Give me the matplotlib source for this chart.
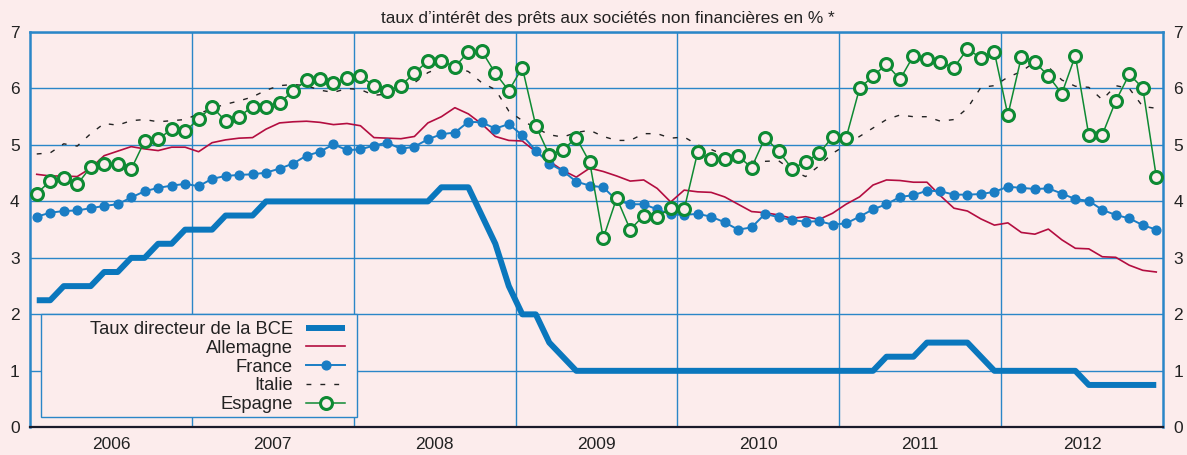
import matplotlib
matplotlib.use("Agg")
import matplotlib.pyplot as plt
from matplotlib.patches import Rectangle
import numpy as np

plt.rcParams['font.family'] = ['Liberation Sans', 'DejaVu Sans']

# ---------------- data (monthly, Jan 2006 - Dec 2012) ----------------
years = [2006, 2007, 2008, 2009, 2010, 2011, 2012]
year_labels = ['2006', '2007', '2008', '2009', '2010', '2011', '2012']

ecb = [2.25, 2.25, 2.5, 2.5, 2.5, 2.75, 2.75, 3.0, 3.0, 3.25, 3.25, 3.5,
       3.5, 3.5, 3.75, 3.75, 3.75, 4.0, 4.0, 4.0, 4.0, 4.0, 4.0, 4.0,
       4.0, 4.0, 4.0, 4.0, 4.0, 4.0, 4.25, 4.25, 4.25, 3.75, 3.25, 2.5,
       2.0, 2.0, 1.5, 1.25, 1.0, 1.0, 1.0, 1.0, 1.0, 1.0, 1.0, 1.0,
       1.0, 1.0, 1.0, 1.0, 1.0, 1.0, 1.0, 1.0, 1.0, 1.0, 1.0, 1.0,
       1.0, 1.0, 1.0, 1.25, 1.25, 1.25, 1.5, 1.5, 1.5, 1.5, 1.25, 1.0,
       1.0, 1.0, 1.0, 1.0, 1.0, 1.0, 0.75, 0.75, 0.75, 0.75, 0.75, 0.75]

allemagne = [4.48, 4.45, 4.45, 4.44, 4.59, 4.81, 4.89, 4.97, 4.93, 4.90, 4.96, 4.96,
             4.88, 5.04, 5.09, 5.12, 5.13, 5.28, 5.39, 5.41, 5.42, 5.40, 5.36, 5.38,
             5.34, 5.13, 5.12, 5.11, 5.15, 5.39, 5.50, 5.66, 5.55, 5.37, 5.15, 5.08,
             5.07, 4.88, 4.71, 4.55, 4.43, 4.59, 4.53, 4.45, 4.36, 4.38, 4.23, 3.99,
             4.20, 4.17, 4.16, 4.08, 3.95, 3.82, 3.80, 3.76, 3.70, 3.73, 3.68, 3.79,
             3.95, 4.08, 4.29, 4.38, 4.37, 4.34, 4.34, 4.10, 3.88, 3.83, 3.69, 3.58,
             3.62, 3.45, 3.42, 3.51, 3.32, 3.17, 3.16, 3.02, 3.01, 2.87, 2.78, 2.75]

france = [3.73, 3.80, 3.83, 3.84, 3.88, 3.92, 3.95, 4.07, 4.18, 4.24, 4.28, 4.31,
          4.27, 4.40, 4.45, 4.47, 4.48, 4.51, 4.58, 4.67, 4.81, 4.88, 5.01, 4.91,
          4.92, 4.99, 5.04, 4.93, 4.97, 5.10, 5.19, 5.22, 5.41, 5.40, 5.29, 5.37,
          5.17, 4.90, 4.67, 4.54, 4.35, 4.28, 4.25, 4.02, 3.95, 3.95, 3.86, 3.77,
          3.76, 3.78, 3.73, 3.63, 3.50, 3.54, 3.78, 3.72, 3.67, 3.64, 3.65, 3.59,
          3.61, 3.73, 3.86, 3.95, 4.08, 4.11, 4.19, 4.18, 4.12, 4.12, 4.13, 4.17,
          4.26, 4.24, 4.22, 4.23, 4.14, 4.04, 4.01, 3.85, 3.76, 3.70, 3.58, 3.50]

italie = [4.84, 4.86, 5.02, 4.98, 5.20, 5.38, 5.35, 5.43, 5.45, 5.41, 5.43, 5.45,
          5.55, 5.65, 5.72, 5.78, 5.85, 5.97, 6.05, 6.07, 6.05, 5.97, 5.93, 6.00,
          5.98, 5.88, 5.90, 6.00, 6.10, 6.28, 6.38, 6.38, 6.30, 6.10, 5.98, 5.60,
          5.43, 5.30, 5.18, 5.14, 5.22, 5.26, 5.15, 5.08, 5.08, 5.20, 5.20, 5.12,
          5.14, 5.00, 4.92, 4.82, 4.73, 4.71, 4.71, 4.72, 4.55, 4.44, 4.63, 4.85,
          5.00, 5.15, 5.30, 5.45, 5.53, 5.50, 5.50, 5.42, 5.45, 5.65, 6.02, 6.05,
          6.20, 6.30, 6.47, 6.38, 6.15, 6.04, 6.02, 5.80, 6.05, 6.00, 5.68, 5.65]

espagne = [4.14, 4.36, 4.41, 4.30, 4.61, 4.67, 4.67, 4.57, 5.07, 5.10, 5.28, 5.24,
           5.46, 5.68, 5.42, 5.50, 5.68, 5.68, 5.75, 5.95, 6.15, 6.17, 6.09, 6.18,
           6.22, 6.05, 5.95, 6.05, 6.27, 6.49, 6.49, 6.38, 6.65, 6.66, 6.27, 5.96,
           6.37, 5.34, 4.82, 4.91, 5.13, 4.69, 3.35, 4.06, 3.50, 3.75, 3.73, 3.88,
           3.86, 4.87, 4.75, 4.75, 4.80, 4.60, 5.13, 4.89, 4.58, 4.70, 4.85, 5.14,
           5.12, 6.00, 6.22, 6.43, 6.16, 6.58, 6.53, 6.46, 6.37, 6.70, 6.54, 6.64,
           5.53, 6.56, 6.47, 6.22, 5.91, 6.58, 5.17, 5.18, 5.78, 6.25, 6.01, 4.44]

labels = ['Taux directeur de la BCE', 'Allemagne', 'France', 'Italie', 'Espagne']
title = 'taux d\u2019intérêt des prêts aux sociétés non financières en % *'

# ---------------- styling ----------------
bg = '#fcecec'
gridc = '#2a86c8'
c_ecb = '#0a77bd'
c_de = '#b30d40'
c_fr = '#1a7dc4'
c_it = '#222222'
c_es = '#0e8a33'

n = len(ecb)
x = years[0] + (np.arange(n) + 0.5) / 12.0

fig = plt.figure(figsize=(11.87, 4.55), dpi=100, facecolor=bg)
ax = fig.add_axes([30 / 1187, 1 - 427.3 / 455, 1133 / 1187, 395.3 / 455])
ax.set_facecolor(bg)

ax.set_xlim(years[0], years[-1] + 1)
ax.set_ylim(0, 7)

# grid
for yv in range(1, 8):
    ax.axhline(yv, color=gridc, lw=1.0, zorder=1)
for yr in years[1:]:
    ax.axvline(yr, color=gridc, lw=1.0, zorder=1)

ax.plot(x, ecb, color=c_ecb, lw=4.3, solid_capstyle='butt', zorder=3, label=labels[0])
ax.plot(x, allemagne, color=c_de, lw=1.2, zorder=3, label=labels[1])
ax.plot(x, france, color=c_fr, lw=1.4, marker='o', ms=6.3, mec=c_fr, mfc=c_fr,
        zorder=4, label=labels[2])
ax.plot(x, italie, color=c_it, lw=1.0, dashes=(3.5, 6.5), zorder=3, label=labels[3])
ax.plot(x, espagne, color=c_es, lw=1.1, marker='o', ms=8.6, mew=2.2, mec=c_es,
        mfc=bg, zorder=5, label=labels[4])

# spines
for s in ['left', 'right', 'top']:
    ax.spines[s].set_color(gridc)
    ax.spines[s].set_linewidth(1.8)
ax.spines['bottom'].set_color('#1a1a2a')
ax.spines['bottom'].set_linewidth(1.6)

# ticks
ax.set_yticks(range(0, 8))
ax.set_yticklabels([str(v) for v in range(0, 8)])
ax.tick_params(axis='y', left=False, right=False, labelleft=True, labelright=True,
               labelsize=12.5, pad=4, colors='#222222')
ax.set_xticks([yr + 0.5 for yr in years])
ax.set_xticklabels(year_labels)
ax.tick_params(axis='x', bottom=False, labelsize=12.5, pad=3.5, colors='#222222')

fig.text(608 / 1187, 1 - 18 / 455, title, ha='center', va='center',
         fontsize=12.4, color='#222222')

# legend frame
ax.add_patch(Rectangle((11 / 1133, (427.3 - 417) / 395.3), 316 / 1133, 103 / 395.3,
                       transform=ax.transAxes, facecolor=bg, edgecolor=gridc,
                       lw=1.0, zorder=6))
leg = ax.legend(loc='upper right', bbox_to_anchor=((345 - 30) / 1133, (427.3 - 321) / 395.3),
                frameon=False, markerfirst=False, fontsize=13.2, labelspacing=0.1,
                handlelength=2.1, handletextpad=0.75, borderpad=0, borderaxespad=0)
leg.set_zorder(7)
for t in leg.get_texts():
    t.set_color('#222222')

fig.savefig('out.png', dpi=100, facecolor=bg)
